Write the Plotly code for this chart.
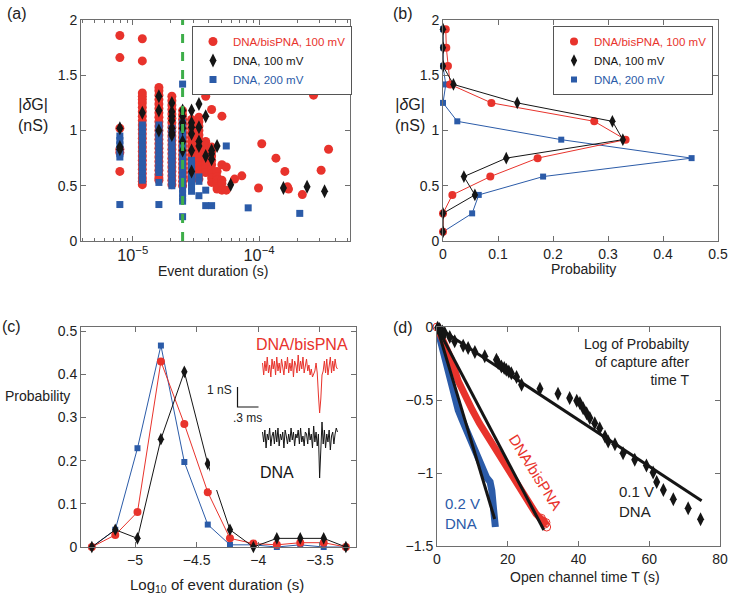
import plotly.graph_objs as go

# ---------------- data ----------------
# (a) scatter: event duration in microseconds, |dG| in nS
red_a = [(7.9, 1.86), (7.9, 1.66), (7.9, 1.02), (7.9, 0.83), (7.9, 0.80), (7.9, 0.63),
         (11.9, 1.83), (11.9, 1.63), (11.9, 1.34), (11.9, 1.31), (11.9, 1.28), (11.9, 1.25), (11.9, 1.21),
         (11.9, 1.17), (11.9, 1.13), (11.9, 1.09), (11.9, 1.05), (11.9, 1.01), (11.9, 0.97), (11.9, 0.93),
         (11.9, 0.89), (11.9, 0.85), (11.9, 0.81), (11.9, 0.77), (11.9, 0.73), (11.9, 0.69), (11.9, 0.65),
         (11.9, 0.61), (11.9, 0.57), (11.9, 0.54), (11.9, 0.51),
         (16.1, 1.39), (16.1, 1.36), (16.1, 1.32), (16.1, 1.28), (16.1, 1.24), (16.1, 1.20), (16.1, 1.16),
         (16.1, 1.12), (16.1, 1.08), (16.1, 1.04), (16.1, 1.00), (16.1, 0.96), (16.1, 0.92), (16.1, 0.88),
         (16.1, 0.84), (16.1, 0.80), (16.1, 0.76), (16.1, 0.72), (16.1, 0.68), (16.1, 0.64), (16.1, 0.60),
         (16.1, 0.57), (16.1, 0.55),
         (20.4, 1.31), (20.4, 1.27), (20.4, 1.23), (20.4, 1.19), (20.4, 1.15), (20.4, 1.11), (20.4, 1.07),
         (20.4, 1.03), (20.4, 0.99), (20.4, 0.95), (20.4, 0.91), (20.4, 0.87), (20.4, 0.83), (20.4, 0.79),
         (20.4, 0.75), (20.4, 0.71), (20.4, 0.67), (20.4, 0.63), (20.4, 0.59), (20.4, 0.55), (20.4, 0.51),
         (24.8, 1.18), (24.8, 1.14), (24.8, 1.10), (24.8, 1.06), (24.8, 1.02), (24.8, 0.98), (24.8, 0.94),
         (24.8, 0.90), (24.8, 0.86), (24.8, 0.82), (24.8, 0.78), (24.8, 0.74), (24.8, 0.70), (24.8, 0.66),
         (24.8, 0.62), (24.8, 0.58), (24.8, 0.54), (24.8, 0.50),
         (29.2, 1.10), (29.2, 1.06), (29.2, 1.02), (29.2, 0.98), (29.2, 0.94), (29.2, 0.90), (29.2, 0.86),
         (29.2, 0.82), (29.2, 0.78), (29.2, 0.74), (29.2, 0.70), (29.2, 0.66), (29.2, 0.62), (29.2, 0.58),
         (29.2, 0.55),
         (33.4, 1.12), (33.4, 1.08), (33.4, 1.04), (33.4, 1.00), (33.4, 0.96), (33.4, 0.92), (33.4, 0.88),
         (33.4, 0.84), (33.4, 0.80), (33.4, 0.76), (33.4, 0.72), (33.4, 0.68), (33.4, 0.64), (33.4, 0.60),
         (33.4, 0.56),
         (37.8, 1.31), (37.8, 0.90), (37.8, 0.86), (37.8, 0.82), (37.8, 0.78), (37.8, 0.74), (37.8, 0.70),
         (37.8, 0.66), (37.8, 0.62),
         (42.1, 1.19), (42.1, 0.85), (42.1, 0.81), (42.1, 0.77), (42.1, 0.73), (42.1, 0.69), (42.1, 0.65),
         (42.1, 0.61), (42.1, 0.57), (42.1, 0.53),
         (46.5, 0.63), (46.5, 0.58), (46.5, 0.55), (46.5, 0.52), (46.5, 0.49), (46.5, 0.47),
         (50.8, 1.13), (50.8, 0.69), (50.8, 0.55), (50.8, 0.52), (50.8, 0.46),
         (55.0, 0.67), (55.0, 0.46), (64, 0.56), (73, 0.59), (99, 0.48), (105, 0.88), (136, 0.75),
         (160, 0.63), (168, 0.49), (171, 0.47), (220, 0.42), (270, 1.32), (310, 0.64), (355, 0.83)]

black_a = [(7.9, 1.02), (7.9, 0.85), (7.9, 0.83), (11.9, 1.16),
           (16.1, 1.31), (16.1, 1.18), (16.1, 1.00),
           (20.4, 1.25), (20.4, 1.17), (20.4, 1.13), (20.4, 1.09), (20.4, 1.02), (20.4, 0.98), (20.4, 0.96),
           (24.8, 1.18), (24.8, 1.13), (24.8, 1.07), (24.8, 1.02), (24.8, 0.90), (24.8, 0.82),
           (29.2, 1.18), (29.2, 1.07), (29.2, 1.03), (29.2, 0.97), (29.2, 0.82), (29.2, 0.63),
           (33.4, 1.24), (33.4, 1.03), (33.4, 0.90), (33.4, 0.86),
           (37.8, 1.13), (37.8, 0.77), (42.1, 0.82), (42.1, 0.79), (42.1, 0.74), (46.5, 0.86),
           (59.6, 0.51), (156, 0.48), (240, 0.49), (330, 0.45)]

blue_a = [(7.9, 0.95), (7.9, 0.91), (7.9, 0.87), (7.9, 0.83), (7.9, 0.79), (7.9, 0.76), (7.9, 0.33),
          (11.9, 1.05), (11.9, 1.01), (11.9, 0.97), (11.9, 0.93), (11.9, 0.89), (11.9, 0.85), (11.9, 0.81),
          (11.9, 0.77), (11.9, 0.73), (11.9, 0.69), (11.9, 0.65), (11.9, 0.61), (11.9, 0.57), (11.9, 0.55),
          (16.1, 1.05), (16.1, 1.01), (16.1, 0.97), (16.1, 0.93), (16.1, 0.89), (16.1, 0.85), (16.1, 0.81),
          (16.1, 0.77), (16.1, 0.73), (16.1, 0.69), (16.1, 0.65), (16.1, 0.62), (16.1, 0.53), (16.1, 0.33),
          (20.4, 1.02), (20.4, 0.98), (20.4, 0.94), (20.4, 0.90), (20.4, 0.86), (20.4, 0.82), (20.4, 0.78),
          (20.4, 0.74), (20.4, 0.70), (20.4, 0.66), (20.4, 0.62), (20.4, 0.58), (20.4, 0.54), (20.4, 0.50),
          (24.8, 1.42), (24.8, 1.07), (24.8, 1.03), (24.8, 0.99), (24.8, 0.95), (24.8, 0.91), (24.8, 0.87),
          (24.8, 0.83), (24.8, 0.79), (24.8, 0.75), (24.8, 0.71), (24.8, 0.67), (24.8, 0.63), (24.8, 0.59),
          (24.8, 0.55), (24.8, 0.51), (24.8, 0.47), (24.8, 0.43), (24.8, 0.39), (24.8, 0.36), (24.8, 0.22),
          (29.2, 0.73), (29.2, 0.69), (29.2, 0.65), (29.2, 0.61), (29.2, 0.57), (29.2, 0.53), (29.2, 0.49),
          (29.2, 0.45), (33.4, 0.58), (33.4, 0.54), (33.4, 0.41), (37.8, 0.46), (37.8, 0.32), (42.1, 0.32),
          (55.0, 0.86), (82, 0.30), (210, 0.25)]

threshold_us = 24.8

# (b) |dG| histogram
dg_bins = [0.083, 0.25, 0.417, 0.583, 0.75, 0.917, 1.083, 1.25, 1.417, 1.583, 1.75, 1.917]
red_b = [0, 0, 0.017, 0.086, 0.172, 0.332, 0.275, 0.088, 0.013, 0.009, 0.006, 0.005]
black_b = [0, 0, 0.058, 0.038, 0.115, 0.327, 0.308, 0.135, 0.019, 0, 0, 0]
blue_b = [0, 0.053, 0.065, 0.182, 0.452, 0.215, 0.026, 0, 0.005, 0, 0, 0]

# (c) log10 duration histogram
logt_bins = [-5.35, -5.16, -4.98, -4.79, -4.60, -4.41, -4.23, -4.04, -3.85, -3.66, -3.47, -3.29]
red_c = [0, 0.028, 0.081, 0.430, 0.285, 0.127, 0.020, 0.008, 0.005, 0.010, 0.010, 0]
black_c = [0, 0.040, 0.020, 0.250, 0.406, 0.193, 0.040, 0, 0.020, 0.020, 0.020, 0]
blue_c = [0, 0.040, 0.229, 0.467, 0.197, 0.052, 0.005, 0.005, 0, 0.005, 0, 0]

# (c) inset current traces (nS), sampled every dt_ms
dt_ms = 0.017
trace_bis = [0.2, -0.4, 0.3, -0.2, 0.5, -0.3, 0.1, -0.5, 0.4, -0.1, 0.3, -0.4, 0.5, -0.2, 0.2, -0.3,
             0.4, 0.0, -0.4, 0.3, -0.1, 0.5, -0.3, 0.2, -0.2, 0.4, -0.5, 0.3, 0.1, -0.3, 0.6, -0.2,
             0.3, -0.1, 0.5, -0.3, 0.2, 0.4, -0.2, 0.1, -0.4, -0.1, -0.5, -0.3, -0.2, 0.2, -0.3, -1.4,
             -2.3, -1.6, -0.4, -0.2, 0.3, -0.3, 0.4, -0.4, 0.1, 0.5, -0.3, 0.3, -0.2, 0.4, 0.0, -0.1]
trace_dna = [0.3, -0.2, 0.4, -0.5, 0.2, -0.1, 0.5, -0.4, 0.1, 0.3, -0.3, 0.4, -0.2, 0.5, -0.4, 0.2,
             -0.1, 0.3, -0.5, 0.4, 0.1, -0.3, 0.2, -0.2, 0.5, -0.1, 0.3, -0.4, 0.2, 0.0, 0.4, -0.3,
             0.5, -0.2, 0.1, -0.4, 0.3, 0.2, -0.3, 0.5, -0.1, 0.2, -0.5, 0.6, -0.2, 0.3, -0.4, 0.2,
             -2.0, -0.6, 0.8, -0.3, 0.4, -0.5, 0.2, -0.2, 0.4, -0.6, 0.1, 0.3, -0.3, 0.2, 0.5, 0.3]
scale_ms = 0.3
scale_nS = 1.0

# (d) log probability of capture after time T
t_blue = [0, 1, 2, 3, 4, 5, 6, 7, 8, 9, 10, 11, 12, 13, 14, 15, 15.5, 16, 16.5]
y_blue = [0, -0.10, -0.20, -0.30, -0.40, -0.49, -0.57, -0.63, -0.69, -0.75, -0.81, -0.87, -0.93,
          -0.99, -1.03, -1.06, -1.12, -1.25, -1.37]
t_red = [0, 2, 4, 6, 8, 10, 12, 14, 16, 18, 20, 22, 24, 26, 28, 30, 31]
y_red = [0, -0.10, -0.22, -0.37, -0.48, -0.57, -0.66, -0.74, -0.80, -0.88, -0.96, -1.04, -1.12,
         -1.20, -1.28, -1.33, -1.36]
t_red_end = [29.5, 30.0, 30.5, 30.8, 31.0]
y_red_end = [-1.31, -1.33, -1.35, -1.34, -1.37]
t_black = [0.2, 0.75, 1.5, 2.2, 3.6, 5.0, 7.4, 8.8, 10.7, 13.5, 16.8, 17.3, 18.2, 19.0, 19.6, 20.3,
           21.0, 22.5, 23.9, 29.1, 34.2, 37.5, 39.5, 40.4, 41.3, 42.3, 43.2, 44.6, 46.0, 47.5, 48.4,
           50.3, 52.6, 55.9, 59.2, 61.1, 62.1, 64.0, 66.8, 71.0, 74.5]
y_black = [-0.005, -0.014, -0.03, -0.041, -0.069, -0.098, -0.128, -0.144, -0.171, -0.201, -0.224,
           -0.247, -0.27, -0.28, -0.293, -0.305, -0.316, -0.343, -0.396, -0.423, -0.457, -0.487,
           -0.505, -0.521, -0.556, -0.59, -0.624, -0.659, -0.693, -0.75, -0.784, -0.803, -0.864,
           -0.91, -0.949, -0.997, -1.061, -1.116, -1.18, -1.242, -1.317]
fit_blue = ([0, 16.3], [0, -1.315])
fit_red = ([0, 30.2], [0, -1.39])
fit_black = ([0, 74.8], [0, -1.19])

# ---------------- styling ----------------
RED = '#e8332c'
BLACK = '#151515'
BLUE = '#2b5ba8'
GREEN = '#3dae49'
FONT = 'Liberation Sans, Arial, sans-serif'
W, H = 730, 597

def px(x):
    return x / W

def py(y):
    return 1 - y / H

fig = go.Figure()

names = ['DNA/bisPNA, 100 mV', 'DNA, 100 mV', 'DNA, 200 mV']
cols = [RED, BLACK, BLUE]
syms = ['circle', 'diamond-tall', 'square']
leg_names = ['<span style="color:%s">%s</span>' % (c, n) for c, n in zip(cols, names)]

# (a)
for pts, c, s, sz, nm, rank in [(red_a, RED, 'circle', 9, leg_names[0], 1),
                                (blue_a, BLUE, 'square', 7, leg_names[2], 3),
                                (black_a, BLACK, 'diamond-tall', 10, leg_names[1], 2)]:
    fig.add_trace(go.Scatter(x=[p[0] * 1e-6 for p in pts], y=[p[1] for p in pts], mode='markers',
                             marker=dict(color=c, symbol=s, size=sz, line=dict(width=0)),
                             name=nm, legend='legend', legendrank=rank, cliponaxis=False,
                             xaxis='x', yaxis='y'))
fig.add_trace(go.Scatter(x=[threshold_us * 1e-6] * 2, y=[0, 2], mode='lines',
                         line=dict(color=GREEN, width=3, dash='dash'), showlegend=False,
                         xaxis='x', yaxis='y'))

# (b)
for vals, c, s, sz in [(blue_b, BLUE, 'square', 6), (red_b, RED, 'circle', 8), (black_b, BLACK, 'diamond-tall', 9)]:
    fig.add_trace(go.Scatter(x=vals, y=dg_bins, mode='lines+markers', line=dict(color=c, width=1),
                             marker=dict(color=c, symbol=s, size=sz), showlegend=False,
                             cliponaxis=False, xaxis='x2', yaxis='y2'))
for i in range(3):
    fig.add_trace(go.Scatter(x=[None], y=[None], mode='markers', name=leg_names[i],
                             marker=dict(color=cols[i], symbol=syms[i], size=[8, 9, 6][i]),
                             legend='legend2', legendrank=i + 1, xaxis='x2', yaxis='y2'))

# (c)
for vals, c, s, sz in [(blue_c, BLUE, 'square', 6), (red_c, RED, 'circle', 8), (black_c, BLACK, 'diamond-tall', 9)]:
    fig.add_trace(go.Scatter(x=logt_bins, y=vals, mode='lines+markers', line=dict(color=c, width=1),
                             marker=dict(color=c, symbol=s, size=sz), showlegend=False,
                             cliponaxis=False, xaxis='x3', yaxis='y3'))

# (c) inset traces
dna_offset = -3.55
fig.add_trace(go.Scatter(x=[i * dt_ms for i in range(len(trace_bis))], y=trace_bis, mode='lines',
                         line=dict(color=RED, width=1), showlegend=False, xaxis='x5', yaxis='y5'))
fig.add_trace(go.Scatter(x=[i * dt_ms for i in range(len(trace_dna))], y=[v + dna_offset for v in trace_dna],
                         mode='lines', line=dict(color=BLACK, width=1), showlegend=False,
                         xaxis='x5', yaxis='y5'))
bar_x0, bar_y0 = -0.357, -2.0
fig.add_trace(go.Scatter(x=[bar_x0, bar_x0, bar_x0 + scale_ms], y=[bar_y0 + scale_nS, bar_y0, bar_y0],
                         mode='lines', line=dict(color=BLACK, width=1.2), showlegend=False,
                         xaxis='x5', yaxis='y5'))

# (d)
fig.add_trace(go.Scatter(x=t_blue, y=y_blue, mode='lines', line=dict(color=BLUE, width=7),
                         showlegend=False, xaxis='x4', yaxis='y4'))
fig.add_trace(go.Scatter(x=t_red, y=y_red, mode='lines', line=dict(color=RED, width=7),
                         showlegend=False, xaxis='x4', yaxis='y4'))
fig.add_trace(go.Scatter(x=t_red_end, y=y_red_end, mode='markers',
                         marker=dict(color=RED, symbol='circle-open', size=8), showlegend=False,
                         xaxis='x4', yaxis='y4'))
fig.add_trace(go.Scatter(x=[0], y=[0], mode='markers', marker=dict(color=RED, symbol='circle-open', size=8),
                         showlegend=False, cliponaxis=False, xaxis='x4', yaxis='y4'))
for fx, fy in [fit_blue, fit_red, fit_black]:
    fig.add_trace(go.Scatter(x=fx, y=fy, mode='lines', line=dict(color=BLACK, width=3),
                             showlegend=False, xaxis='x4', yaxis='y4'))
fig.add_trace(go.Scatter(x=t_black, y=y_black, mode='markers',
                         marker=dict(color=BLACK, symbol='diamond-tall', size=10), showlegend=False,
                         cliponaxis=False, xaxis='x4', yaxis='y4'))

# ---------------- layout ----------------
ax = dict(showline=True, linecolor='#6e6e6e', linewidth=1, mirror='ticks', ticks='inside',
          ticklen=5, tickcolor='#6e6e6e', showgrid=False, zeroline=False, automargin=False,
          tickfont=dict(size=14, color='#222'))

leg = dict(xanchor='right', y=py(26), yanchor='top', bgcolor='white', bordercolor='#555',
           borderwidth=1, font=dict(size=11.5), tracegroupgap=0)

fig.update_layout(
    width=W, height=H, margin=dict(l=0, r=0, t=0, b=0),
    paper_bgcolor='white', plot_bgcolor='white',
    font=dict(family=FONT, size=14, color='#222'),
    xaxis=dict(ax, type='log', range=[-5.41, -3.28], dtick=1, exponentformat='power',
               domain=[px(81), px(350)], anchor='y', tickfont=dict(size=13, color='#222'),
               minor=dict(ticks='inside', ticklen=3, tickcolor='#6e6e6e')),
    yaxis=dict(ax, range=[0, 2], dtick=0.5, domain=[py(241), py(20)], anchor='x'),
    xaxis2=dict(ax, range=[0, 0.5], dtick=0.1, domain=[px(443), px(718)], anchor='y2'),
    yaxis2=dict(ax, range=[0, 2], dtick=0.5, domain=[py(241), py(20)], anchor='x2'),
    xaxis3=dict(ax, range=[-5.438, -3.208], tick0=-5, dtick=0.5, domain=[px(81), px(356)], anchor='y3'),
    yaxis3=dict(ax, range=[0, 0.51], dtick=0.1, domain=[py(547), py(327)], anchor='x3'),
    xaxis4=dict(ax, range=[0, 80], dtick=20, domain=[px(437), px(720)], anchor='y4'),
    yaxis4=dict(ax, range=[-1.5, 0], dtick=0.5, domain=[py(546), py(327)], anchor='x4'),
    xaxis5=dict(visible=False, range=[-0.75, 1.25], domain=[px(210), px(350)], anchor='y5'),
    yaxis5=dict(visible=False, range=[-6.15, 1.35], domain=[py(490), py(340)], anchor='x5'),
    legend=dict(leg, x=px(352)),
    legend2=dict(leg, x=px(713)),
)

def note(text, x, y, size=14, color='#222', xanchor='center', yanchor='middle', **kw):
    fig.add_annotation(text=text, x=px(x), y=py(y), xref='paper', yref='paper', showarrow=False,
                       xanchor=xanchor, yanchor=yanchor,
                       font=dict(size=size, color=color, family=FONT), **kw)

note('(a)', 17, 14, size=16)
note('(b)', 403, 14, size=16)
note('(c)', 12, 326, size=16)
note('(d)', 403, 327, size=16)
note('|<i>δ</i>G|<br>(nS)', 33, 115, size=16)
note('|<i>δ</i>G|<br>(nS)', 410, 115, size=16)
note('Probability', 37, 396, size=14)
note('Event duration (s)', 213, 271)
note('Probability', 583, 269)
note('Log<sub>10</sub> of event duration (s)', 217, 574, size=15, yanchor='top')
note('Open channel time T (s)', 585, 577)
note('DNA/bisPNA', 302, 344, size=16, color=RED)
note('DNA', 277, 473, size=16, color=BLACK)
note('1 nS', 234, 390, size=12, xanchor='right')
note('.3 ms', 247, 418, size=12)
note('Log of Probabilty<br>of capture after<br>time T', 692, 362, size=14, align='right', xanchor='right')
note('0.1 V<br>DNA', 617, 501, size=15, align='left', xanchor='left')
note('0.2 V<br>DNA', 443, 513, size=15, color=BLUE, align='left', xanchor='left')
note('DNA/bisPNA', 536, 472, size=15, color=RED, textangle=58)

# the page body has a default 8px margin; drop it so the figure sits at the window's corner
fig.write_html("out.html", config={'displayModeBar': False},
               post_script="document.body.style.margin='0';")
